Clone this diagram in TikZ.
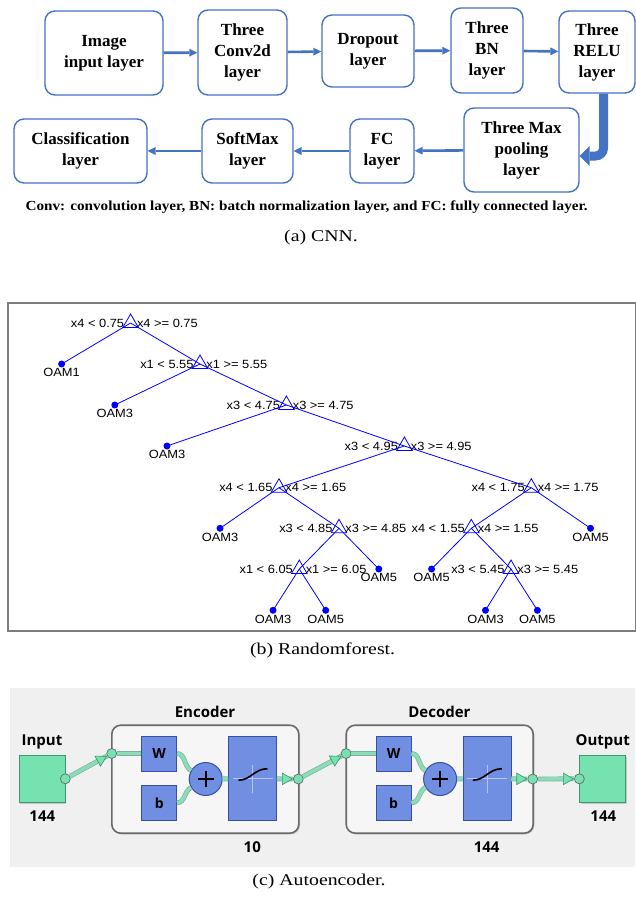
\documentclass[tikz,border=0pt]{standalone}
\usepackage{fontspec}
\setmainfont{Liberation Serif}
\newfontfamily\treefont[FakeStretch=1.08]{Liberation Sans}
\newfontfamily\aefont{Open Sans}
\newfontfamily\capfont[FakeStretch=1.2]{Liberation Serif}
\newfontfamily\notefont[FakeStretch=1.1]{Liberation Serif}
\usetikzlibrary{arrows.meta,positioning,shapes.geometric,shadows}
\definecolor{CnnBlue}{RGB}{68,114,196}
\definecolor{TreeBlue}{RGB}{0,0,255}
\definecolor{FrameGray}{RGB}{125,125,125}
\definecolor{AeBack}{RGB}{240,240,240}
\definecolor{AeBox}{RGB}{246,246,246}
\definecolor{AeEdge}{RGB}{105,105,105}
\definecolor{AeGreen}{RGB}{118,226,176}
\definecolor{AeGreenDk}{RGB}{60,150,110}
\definecolor{AeLink}{RGB}{140,220,185}
\definecolor{AeBlue}{RGB}{112,142,226}
\definecolor{AeBlueDk}{RGB}{55,80,165}

\begin{document}
\begin{tikzpicture}[
    x=1pt, y=-1pt,
    layer/.style={draw=CnnBlue, line width=1.4pt, rounded corners=10pt, align=center,
      inner sep=1pt, font={\fontsize{17}{21}\selectfont\bfseries}},
    flow/.style={-{Triangle[length=8pt,width=8pt,line width=0pt]}, line width=2.6pt, draw=CnnBlue},
    bigflow/.style={-{Triangle[length=10pt,width=20pt,line width=0pt]}, line width=9pt,
      draw=CnnBlue, rounded corners=8pt},
    note/.style={font={\notefont\fontsize{13.8}{16}\selectfont\bfseries}},
    captxt/.style={font={\capfont\fontsize{16.5}{19}\selectfont}},
    split/.style={regular polygon, regular polygon sides=3, draw=TreeBlue, line width=.8pt,
      inner sep=0pt, minimum size=18pt, label distance=3.2pt},
    leaf/.style={circle, fill=TreeBlue, inner sep=0pt, minimum size=7pt},
    tlbl/.style={font={\treefont\fontsize{11.9}{13}\selectfont}, inner sep=.6pt},
    branch/.style={draw=TreeBlue, line width=.8pt},
    aebox/.style={draw=AeEdge, fill=AeBox, line width=1.6pt, rounded corners=9pt,
      minimum width=187pt, minimum height=108pt,
      drop shadow={opacity=.35, shadow xshift=1.2pt, shadow yshift=-1.2pt}},
    aeblue/.style={fill=AeBlue, draw=AeBlueDk, line width=.7pt, inner sep=0pt,
      minimum size=35pt, font={\aefont\fontsize{14}{16}\selectfont\bfseries}},
    aesq/.style={fill=AeGreen, draw=AeGreenDk, line width=.7pt, minimum width=46pt,
      minimum height=47pt, drop shadow={opacity=.35, shadow xshift=1.2pt, shadow yshift=-1.2pt}},
    aedot/.style={circle, fill=AeGreen, draw=AeEdge, line width=.7pt, inner sep=0pt, minimum size=10pt},
    aeplus/.style={circle, fill=AeBlue, draw=AeBlueDk, line width=1pt, inner sep=0pt, minimum size=33pt},
    aelink/.style={draw=AeLink, line width=3.4pt, preaction={draw=AeGreenDk!70, line width=4.8pt}},
    aetip/.style={isosceles triangle, isosceles triangle apex angle=60, fill=AeGreen,
      draw=AeGreenDk, line width=.6pt, inner sep=0pt, minimum size=10pt, pos=1, sloped, anchor=apex},
    aettl/.style={font={\aefont\fontsize{15}{18}\selectfont\bfseries}}
  ]
    \useasboundingbox (0,0) rectangle (636,897);

    % (a) CNN
    \node[layer, minimum width=118pt, minimum height=84pt] (img) at (104,53) {Image\\input layer};
    \node[layer, minimum width=89pt, minimum height=85pt] (conv) at (242.5,52.5) {Three\\Conv2d\\layer};
    \node[layer, minimum width=92pt, minimum height=72pt] (drop) at (368,51) {Dropout\\layer};
    \node[layer, minimum width=72pt, minimum height=85pt] (bn) at (487,50.5) {Three\\BN\\layer};
    \node[layer, minimum width=76pt, minimum height=82pt] (relu) at (597,52) {Three\\RELU\\layer};
    \node[layer, minimum width=115pt, minimum height=84pt] (pool) at (521.5,150) {Three Max\\pooling\\layer};
    \node[layer, minimum width=64pt, minimum height=64pt] (fc) at (382,151) {FC\\layer};
    \node[layer, minimum width=91pt, minimum height=64pt] (soft) at (247.5,151) {SoftMax\\layer};
    \node[layer, minimum width=133pt, minimum height=64pt] (cls) at (80.5,151) {Classification\\layer};
    \draw[flow] (img) -- (conv);
    \draw[flow] (conv) -- (drop);
    \draw[flow] (drop) -- (bn);
    \draw[flow] (bn) -- (relu);
    \draw[bigflow] ([xshift=6.5pt]relu.south) |- ([yshift=-6pt]pool.east);
    \draw[flow] (pool) -- (fc);
    \draw[flow] (fc) -- (soft);
    \draw[flow] (soft) -- (cls);
    \node[note] (abbr) at (306.7,207) {Conv: convolution layer, BN: batch normalization layer, and FC: fully connected layer.};
    \node[captxt] (capA) at (321,238) {(a) CNN.};

    % (b) tree
    \draw[FrameGray, line width=1.3pt] (8,303) rectangle (635.5,631);
    \node[split, label={[tlbl]left:{x4 < 0.75}}, label={[tlbl]right:{x4 >= 0.75}}] (s1) at (130.6,323) {};
    \node[split, label={[tlbl]left:{x1 < 5.55}}, label={[tlbl]right:{x1 >= 5.55}}] (s2) at (200,364) {};
    \node[split, label={[tlbl]left:{x3 < 4.75}}, label={[tlbl]right:{x3 >= 4.75}}] (s3) at (286.4,405) {};
    \node[split, label={[tlbl]left:{x3 < 4.95}}, label={[tlbl]right:{x3 >= 4.95}}] (s4) at (404.4,446) {};
    \node[split, label={[tlbl]left:{x4 < 1.65}}, label={[tlbl]right:{x4 >= 1.65}}] (s5) at (279,487.7) {};
    \node[split, label={[tlbl]left:{x4 < 1.75}}, label={[tlbl]right:{x4 >= 1.75}}] (s6) at (531.3,487.7) {};
    \node[split, label={[tlbl]left:{x3 < 4.85}}, label={[tlbl]right:{x3 >= 4.85}}] (s7) at (339,528.3) {};
    \node[split, label={[tlbl]left:{x4 < 1.55}}, label={[tlbl]right:{x4 >= 1.55}}] (s8) at (471.3,528.3) {};
    \node[split, label={[tlbl]left:{x1 < 6.05}}, label={[tlbl]right:{x1 >= 6.05}}] (s9) at (299.3,569) {};
    \node[split, label={[tlbl]left:{x3 < 5.45}}, label={[tlbl]right:{x3 >= 5.45}}] (s10) at (511,569) {};
    \foreach \nm/\px/\py/\cls in {a1/61.6/364/OAM1, a2/114.8/405/OAM3, a3/167/446/OAM3,
        a4/220/528.3/OAM3, a5/590.5/528.3/OAM5, a6/378.8/569/OAM5, a7/431.6/569/OAM5,
        a8/273/610.3/OAM3, a9/325.7/610.3/OAM5, a10/485.5/610.3/OAM3, a11/537.4/610.3/OAM5}
      \node[leaf, label={[tlbl]below:\cls}] (\nm) at (\px,\py) {};
    \foreach \p/\c in {s1/a1, s1/s2, s2/a2, s2/s3, s3/a3, s3/s4, s4/s5, s4/s6, s5/a4, s5/s7,
        s7/s9, s7/a6, s9/a8, s9/a9, s6/s8, s6/a5, s8/a7, s8/s10, s10/a10, s10/a11}
      \draw[branch] (\p.center) -- (\c.center);
    \node[captxt] (capB) at (322.6,650) {(b) Randomforest.};

    % (c) autoencoder
    \fill[AeBack] (10,688) rectangle (635,867);
    \node[aesq] (inSq) at (42,778.8) {};
    \node[aettl] (inT) at (42,741.7) {Input};
    \node[aettl] (inN) at (42.3,816) {144};
    \node[aedot] (inO) at (inSq.east) {};
    \foreach \nm/\dx/\ttl/\sz in {enc/0/Encoder/10, dec/234.4/Decoder/144}{
      \begin{scope}[xshift=\dx]
        \node[aebox] (\nm) at (205.3,779.2) {};
        \node[aettl] (\nm T) at (205,711.7) {\ttl};
        \node[aeblue] (\nm W) at (159.2,753.5) {W};
        \node[aeblue] (\nm B) at (159.2,802.8) {b};
        \node[aeplus] (\nm P) at (205.7,779) {};
        \node[aeblue, minimum width=48pt, minimum height=84pt] (\nm F) at (252.5,778.7) {};
        \node[aedot] (\nm I) at (111.7,753.5) {};
        \node[aedot] (\nm O) at (298.3,779) {};
        \node[aettl] (\nm N) at (252.3,846.7) {\sz};
        \draw[line width=1.8pt] ([xshift=-8pt]\nm P.center) -- ([xshift=8pt]\nm P.center)
          ([yshift=-8pt]\nm P.center) -- ([yshift=8pt]\nm P.center);
        \begin{scope}[shift={(\nm F.center)}]
          \draw[white, opacity=.5, line width=.8pt] (0,-14) -- (0,14) (-20,0) -- (20,0);
          \draw[line width=1.6pt] (-14,1.5) .. controls (-2,1.5) and (2,-10) .. (15,-10);
        \end{scope}
        \draw[aelink] (\nm I) -- (\nm W);
        \draw[aelink] (\nm W.east) to[out=0, in=150] (\nm P);
        \draw[aelink] (\nm B.east) to[out=0, in=-150] (\nm P);
        \draw[aelink] (\nm P) -- (\nm F);
        \draw[aelink] (\nm F) -- node[aetip] {} (\nm O);
      \end{scope}
    }
    \node[aesq] (outSq) at (602.7,778.8) {};
    \node[aettl] (outT) at (602.7,741.7) {Output};
    \node[aettl] (outN) at (603.3,816) {144};
    \node[aedot] (outI) at (outSq.west) {};
    \draw[aelink] (inO) -- node[aetip] {} (encI);
    \draw[aelink] (encO) -- node[aetip] {} (decI);
    \draw[aelink] (decO) -- node[aetip] {} (outI);
    \node[captxt] (capC) at (319,881.7) {(c) Autoencoder.};
  \end{tikzpicture}
\end{document}
